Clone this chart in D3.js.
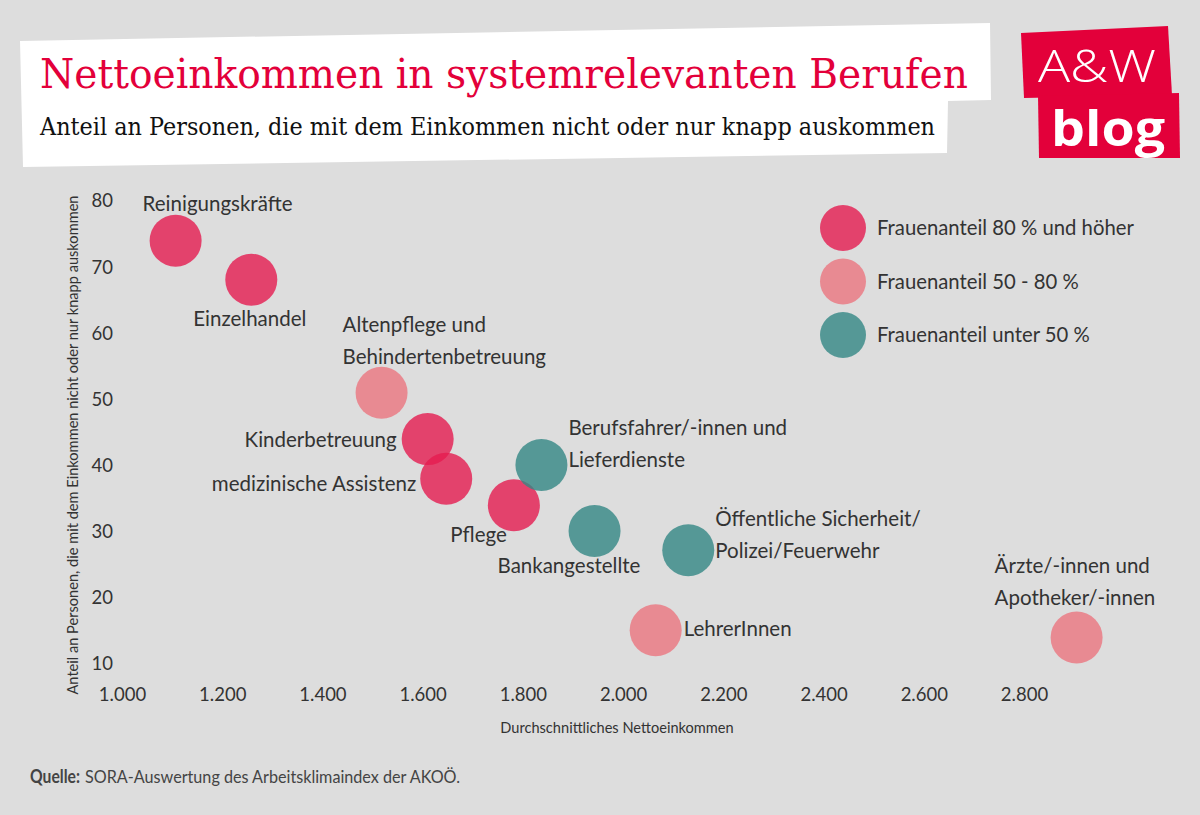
<!DOCTYPE html>
<html><head><meta charset="utf-8">
<script src="https://cdn.jsdelivr.net/npm/d3@7"></script>
<style>
html,body{margin:0;padding:0;background:#dddddd;}
svg{display:block;}
</style></head>
<body>
<svg id="chart" width="1200" height="815"></svg>
<script>
// ---- data ----
const occupations = ["Reinigungskräfte","Einzelhandel","Altenpflege und Behindertenbetreuung","Kinderbetreuung","medizinische Assistenz","Pflege","Berufsfahrer/-innen und Lieferdienste","Bankangestellte","Öffentliche Sicherheit/ Polizei/Feuerwehr","LehrerInnen","Ärzte/-innen und Apotheker/-innen"];
const labelLines = [["Reinigungskräfte"],["Einzelhandel"],["Altenpflege und","Behindertenbetreuung"],["Kinderbetreuung"],["medizinische Assistenz"],["Pflege"],["Berufsfahrer/-innen und","Lieferdienste"],["Bankangestellte"],["Öffentliche Sicherheit/","Polizei/Feuerwehr"],["LehrerInnen"],["Ärzte/-innen und","Apotheker/-innen"]];
const income = [1107,1258,1518,1610,1647,1782,1837,1943,2130,2065,2905];
const shareStruggling = [74.0,68.1,51.0,44.0,38.0,34.0,40.1,30.1,27.2,15.1,14.0];
const womenGroup = [0,0,1,0,0,0,2,2,2,1,1];
const groupNames = ["Frauenanteil 80 % und höher","Frauenanteil 50 - 80 %","Frauenanteil unter 50 %"];
const xTicks = [1000,1200,1400,1600,1800,2000,2200,2400,2600,2800];
const yTicks = [10,20,30,40,50,60,70,80];

// label layout (style, not data): [dx, dy, anchor]
const labelLayout = [[-33,-37,"start"],[-58,39,"start"],[-39,-68,"start"],[-31,1,"end"],[-30,5,"end"],[-7,30,"end"],[27,-37,"start"],[-97,35,"start"],[27,-31,"start"],[28,-1,"start"],[-82,-72,"start"]];

const colors = ["rgb(229,27,80)","rgb(235,117,127)","rgb(51,135,132)"];
const svg = d3.select("#chart");
const font = "Lato, 'Open Sans', sans-serif";
const textCol = "#333";

// background
svg.append("rect").attr("width",1200).attr("height",815).attr("fill","#dddddd");

// title box
svg.append("path").attr("fill","#ffffff")
  .attr("d","M20,41 L990,23 L991,100 L948,101 L947,153 L23,167 Z");
svg.append("text").attr("x",40).attr("y",88)
  .attr("font-family","'DejaVu Serif', serif").attr("font-size",41).attr("fill","#e3003a")
  .attr("textLength",928).attr("lengthAdjust","spacingAndGlyphs")
  .text("Nettoeinkommen in systemrelevanten Berufen");
svg.append("text").attr("x",40).attr("y",135)
  .attr("font-family","'DejaVu Serif', serif").attr("font-size",24.5).attr("fill","#111")
  .attr("textLength",895).attr("lengthAdjust","spacingAndGlyphs")
  .text("Anteil an Personen, die mit dem Einkommen nicht oder nur knapp auskommen");

// logo
svg.append("path").attr("fill","#e3003a").attr("d","M1021,33 L1168,26 L1172,95 L1024,98 Z");
svg.append("path").attr("fill","#e3003a").attr("d","M1038,96 L1179,93 L1180,158 L1039,158 Z");
svg.append("text").attr("x",1097).attr("y",82).attr("text-anchor","middle")
  .attr("font-family","'Open Sans', sans-serif").attr("font-weight",300).attr("font-size",44).attr("fill","#fff")
  .attr("textLength",118).attr("lengthAdjust","spacingAndGlyphs").text("A&W");
svg.append("text").attr("x",1108).attr("y",146).attr("text-anchor","middle")
  .attr("font-family","'Open Sans', sans-serif").attr("font-weight",700).attr("font-size",48).attr("fill","#fff")
  .attr("textLength",114).attr("lengthAdjust","spacingAndGlyphs").text("blog");

// scales
const x = d3.scaleLinear().domain([1000,2800]).range([122,1024]);
const y = d3.scaleLinear().domain([10,80]).range([664,201]);
const loc = d3.formatLocale({decimal:",",thousands:".",grouping:[3],currency:["","€"]});
const fmt = loc.format(",.0f");

const xAxis = svg.append("g").attr("transform","translate(0,684)")
  .call(d3.axisBottom(x).tickValues(xTicks).tickFormat(fmt).tickSize(0).tickPadding(4));
const yAxis = svg.append("g").attr("transform","translate(122,0)")
  .call(d3.axisLeft(y).tickValues(yTicks).tickSize(0).tickPadding(9));
[xAxis,yAxis].forEach(a=>{
  a.select(".domain").remove();
  a.selectAll("text").attr("font-family",font).attr("font-size",18.5).attr("fill",textCol);
});

// axis titles
svg.append("text").attr("transform","translate(78,445) rotate(-90)").attr("text-anchor","middle")
  .attr("font-family",font).attr("font-size",14.6).attr("fill",textCol)
  .text("Anteil an Personen, die mit dem Einkommen nicht oder nur knapp auskommen");
svg.append("text").attr("x",617).attr("y",733).attr("text-anchor","middle")
  .attr("font-family",font).attr("font-size",14.6).attr("fill",textCol)
  .text("Durchschnittliches Nettoeinkommen");

// bubbles
const idx = d3.range(occupations.length);
svg.append("g").selectAll("circle").data(idx).join("circle")
  .attr("cx",i=>x(income[i])).attr("cy",i=>y(shareStruggling[i])).attr("r",26)
  .attr("fill",i=>colors[womenGroup[i]]).attr("fill-opacity",0.8);

// labels
const lg = svg.append("g").attr("font-family",font).attr("font-size",20.5).attr("fill",textCol);
idx.forEach(i=>{
  const [dx,dy,anc] = labelLayout[i];
  const t = lg.append("text").attr("text-anchor",anc)
    .attr("x",x(income[i])+dx).attr("y",y(shareStruggling[i])+dy);
  labelLines[i].forEach((ln,k)=>{
    t.append("tspan").attr("x",x(income[i])+dx).attr("dy",k===0?"0.35em":"32px").text(ln);
  });
});

// legend
const leg = svg.append("g");
groupNames.forEach((g,k)=>{
  const cy = 228 + k*53.5;
  leg.append("circle").attr("cx",843).attr("cy",cy).attr("r",23).attr("fill",colors[k]).attr("fill-opacity",0.8);
  leg.append("text").attr("x",877).attr("y",cy).attr("dy","0.35em")
    .attr("font-family",font).attr("font-size",20.3).attr("fill",textCol).text(g);
});

// source
svg.append("text").attr("x",30).attr("y",783)
  .attr("font-family",font).attr("font-size",18).attr("font-weight",700).attr("fill","#444")
  .attr("textLength",50).attr("lengthAdjust","spacingAndGlyphs").text("Quelle:");
svg.append("text").attr("x",85).attr("y",783)
  .attr("font-family",font).attr("font-size",18).attr("fill","#444")
  .attr("textLength",375).attr("lengthAdjust","spacingAndGlyphs")
  .text("SORA-Auswertung des Arbeitsklimaindex der AKOÖ.");
</script>
</body></html>
